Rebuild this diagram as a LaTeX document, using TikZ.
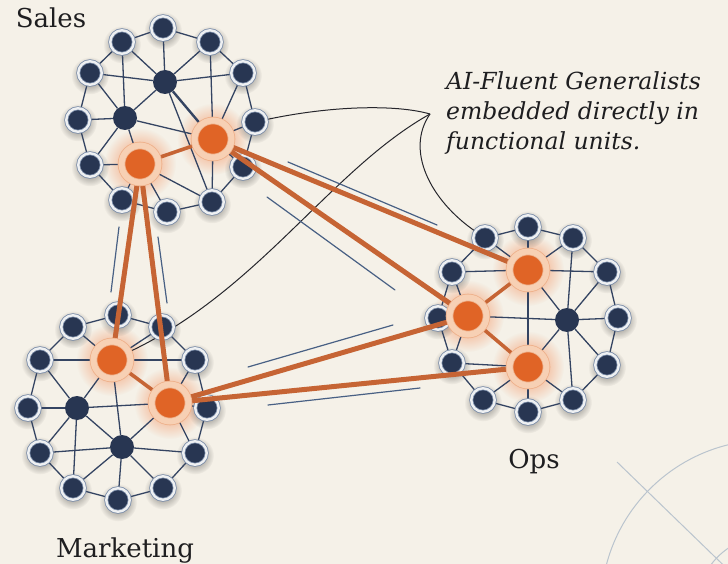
\documentclass[tikz,border=0pt]{standalone}
\usepackage{fontspec}
\setmainfont{DejaVu Serif}
\usetikzlibrary{fadings}

\definecolor{paper}{RGB}{245,241,232}
\definecolor{navy}{RGB}{40,54,82}
\definecolor{wirecol}{RGB}{52,68,98}
\definecolor{ringedge}{RGB}{122,140,168}
\definecolor{ringfill}{RGB}{238,240,242}
\definecolor{orangecore}{RGB}{224,100,38}
\definecolor{peach}{RGB}{247,208,180}
\definecolor{peachedge}{RGB}{238,176,138}
\definecolor{bridgecol}{RGB}{198,100,52}
\definecolor{glowcol}{RGB}{242,118,56}
\definecolor{flowcol}{RGB}{72,96,132}
\definecolor{pointercol}{RGB}{38,38,44}
\definecolor{decocol}{RGB}{186,196,206}
\definecolor{inkcol}{RGB}{30,30,32}

\pgfdeclarelayer{paperlayer}
\pgfdeclarelayer{glowlayer}
\pgfdeclarelayer{wirelayer}
\pgfdeclarelayer{bridgelayer}
\pgfdeclarelayer{toplayer}
\pgfsetlayers{paperlayer,glowlayer,wirelayer,main,bridgelayer,toplayer}

\tikzfading[name=glowfade, inner color=transparent!25, outer color=transparent!100]
\tikzfading[name=shadowfade, inner color=transparent!45, outer color=transparent!100]

\tikzset{
  member/.style={circle, fill=navy, draw=ringedge, line width=0.8pt,
    double=ringfill, double distance=2.4pt, minimum size=23.5pt, inner sep=0pt},
  hub/.style={circle, fill=navy, minimum size=24pt, inner sep=0pt},
  fluent/.style={circle, fill=orangecore, draw=peachedge, line width=0.8pt,
    double=peach, double distance=6pt, minimum size=37pt, inner sep=0pt},
  wire/.style={draw=wirecol, line width=1.3pt},
  heavywire/.style={draw=wirecol, line width=2.4pt},
  innerbridge/.style={draw=bridgecol, line width=3.6pt},
  bridge/.style={draw=bridgecol, line width=5pt},
  flowline/.style={draw=flowcol, line width=1.2pt, line cap=round},
  pointer/.style={draw=pointercol, line width=1pt},
  deco/.style={draw=decocol, line width=1pt},
  unitname/.style={font=\fontsize{26}{30}\selectfont, text=inkcol, inner sep=0pt},
  note/.style={font=\itshape\fontsize{23.5}{30}\selectfont, text=inkcol,
    align=left, inner sep=0pt}
}

\begin{document}
\begin{tikzpicture}[x=1pt, y=-1pt]
  \useasboundingbox (0,0) rectangle (728,564);
  \begin{pgfonlayer}{paperlayer}
    \fill[paper] (0,0) rectangle (728,564);
    % faint compass marks in the lower right corner
    \begin{scope}
      \clip (0,0) rectangle (728,564);
      \draw[deco] (768,607) circle (167pt);
      \draw[deco] (768,607) circle (71pt);
      \draw[deco] (617,462) -- (745,586);
    \end{scope}
  \end{pgfonlayer}

  % ---------- Sales ----------
  \foreach \n/\x/\y in {1/163/28, 2/210/42, 3/243/73, 4/255/122, 5/243/167,
      6/212/202, 7/167/212, 8/122/200, 9/90/165, 10/78/120, 11/90/73, 12/122/42}
    \node[member] (sa\n) at (\x,\y) {};
  \node[hub] (sh1) at (165,82) {};
  \node[hub] (sh2) at (125,118) {};

  % ---------- Marketing ----------
  \foreach \n/\x/\y in {1/118/315, 2/162/327, 3/195/360, 4/207/408, 5/195/453,
      6/163/488, 7/118/500, 8/73/488, 9/40/453, 10/28/408, 11/40/360, 12/73/327}
    \node[member] (ma\n) at (\x,\y) {};
  \node[hub] (mh1) at (77,408) {};
  \node[hub] (mh2) at (122,447) {};

  % ---------- Ops ----------
  \foreach \n/\x/\y in {1/528/227, 2/573/238, 3/607/272, 4/618/318, 5/607/365,
      6/573/400, 7/528/412, 8/483/400, 9/452/363, 10/438/318, 11/452/272, 12/485/238}
    \node[member] (oa\n) at (\x,\y) {};
  \node[hub] (oh) at (567,320) {};

  % AI-fluent generalists sit on top of everything
  \begin{pgfonlayer}{toplayer}
    \node[fluent] (so1) at (213,139) {};
    \node[fluent] (so2) at (140,164) {};
    \node[fluent] (mo1) at (112,360) {};
    \node[fluent] (mo2) at (170,403) {};
    \node[fluent] (oo1) at (528,270) {};
    \node[fluent] (oo2) at (468,316) {};
    \node[fluent] (oo3) at (528,367) {};
  \end{pgfonlayer}

  % glows and soft shadows
  \begin{pgfonlayer}{glowlayer}
    \foreach \g in {so1,so2,mo1,mo2,oo1,oo2,oo3}
      \fill[glowcol, path fading=glowfade] (\g) circle (36pt);
    \foreach \c in {sa,ma,oa}
      \foreach \n in {1,...,12}
        \fill[black, path fading=shadowfade] ([yshift=-2.5pt]\c\n.center) circle (19pt);
  \end{pgfonlayer}

  \begin{pgfonlayer}{wirelayer}
    % rings
    \foreach \c in {sa,ma,oa}
      \foreach \i in {1,...,12}{
        \pgfmathtruncatemacro\j{mod(\i,12)+1}
        \draw[wire] (\c\i) -- (\c\j);
      }
    % Sales spokes
    \foreach \t in {sa1,sa2,sa12,sa11,sa3,sa6,sh2} \draw[wire] (sh1) -- (\t);
    \draw[heavywire] (sh1) -- (so1);
    \foreach \t in {sa12,sa11,sa10,sa9,so1,so2} \draw[wire] (sh2) -- (\t);
    \foreach \t in {sa2,sa3,sa4,sa5,sa6} \draw[wire] (so1) -- (\t);
    \foreach \t in {sa9,sa8,sa7,sa6} \draw[wire] (so2) -- (\t);
    \draw[innerbridge] (so1) -- (so2);
    % Marketing spokes
    \foreach \t in {ma1,ma12,ma2,ma11,ma3,mh1,mh2} \draw[wire] (mo1) -- (\t);
    \foreach \t in {ma2,ma3,ma4,ma5,mh1,mh2} \draw[wire] (mo2) -- (\t);
    \foreach \t in {ma10,ma11,ma9,ma8,mh2} \draw[wire] (mh1) -- (\t);
    \foreach \t in {ma9,ma8,ma7,ma6,ma5} \draw[wire] (mh2) -- (\t);
    \draw[innerbridge] (mo1) -- (mo2);
    % Ops spokes
    \foreach \t in {oa1,oa12,oa2,oa11,oa3,oh,oo3} \draw[wire] (oo1) -- (\t);
    \foreach \t in {oa11,oa10,oa9,oh} \draw[wire] (oo2) -- (\t);
    \foreach \t in {oa8,oa7,oa6,oa9,oh} \draw[wire] (oo3) -- (\t);
    \foreach \t in {oa2,oa3,oa4,oa5,oa6} \draw[wire] (oh) -- (\t);
    \draw[innerbridge] (oo1) -- (oo2);
    \draw[innerbridge] (oo2) -- (oo3);
  \end{pgfonlayer}

  % cross-unit links between the generalists
  \begin{pgfonlayer}{bridgelayer}
    \draw[bridge] (so1) -- (oo1);
    \draw[bridge] (so1) -- (oo2);
    \draw[bridge] (so2) -- (mo1);
    \draw[bridge] (so2) -- (mo2);
    \draw[bridge] (mo2) -- (oo2);
    \draw[bridge] (mo2) -- (oo3);
  \end{pgfonlayer}

  % flow marks running beside the links
  \coordinate (f1a) at (288,162); \coordinate (f1b) at (437,225);
  \coordinate (f2a) at (267,197); \coordinate (f2b) at (395,290);
  \coordinate (f3a) at (119,227); \coordinate (f3b) at (111,292);
  \coordinate (f4a) at (158,237); \coordinate (f4b) at (167,303);
  \coordinate (f5a) at (248,367); \coordinate (f5b) at (393,325);
  \coordinate (f6a) at (268,405); \coordinate (f6b) at (420,388);
  \foreach \k in {1,...,6} \draw[flowline] (f\k a) -- (f\k b);

  % callout text and its pointers
  \node[note, anchor=north west] (callout) at (446,71)
    {AI-Fluent Generalists\\embedded directly in\\functional units.};
  \coordinate (cp) at (430,114);
  \begin{pgfonlayer}{wirelayer}
    \draw[pointer] (sa4) .. controls (330,106) and (395,104) .. (cp);
    \draw[pointer] (cp) .. controls (330,170) and (260,290) .. (mo1);
    \draw[pointer] (cp) .. controls (405,150) and (430,200) .. (oa12);
  \end{pgfonlayer}

  % unit names
  \node[unitname, anchor=base] (salesname) at (51,28) {Sales};
  \node[unitname, anchor=base] (marketingname) at (125,557) {Marketing};
  \node[unitname, anchor=base] (opsname) at (534,468) {Ops};
\end{tikzpicture}
\end{document}
